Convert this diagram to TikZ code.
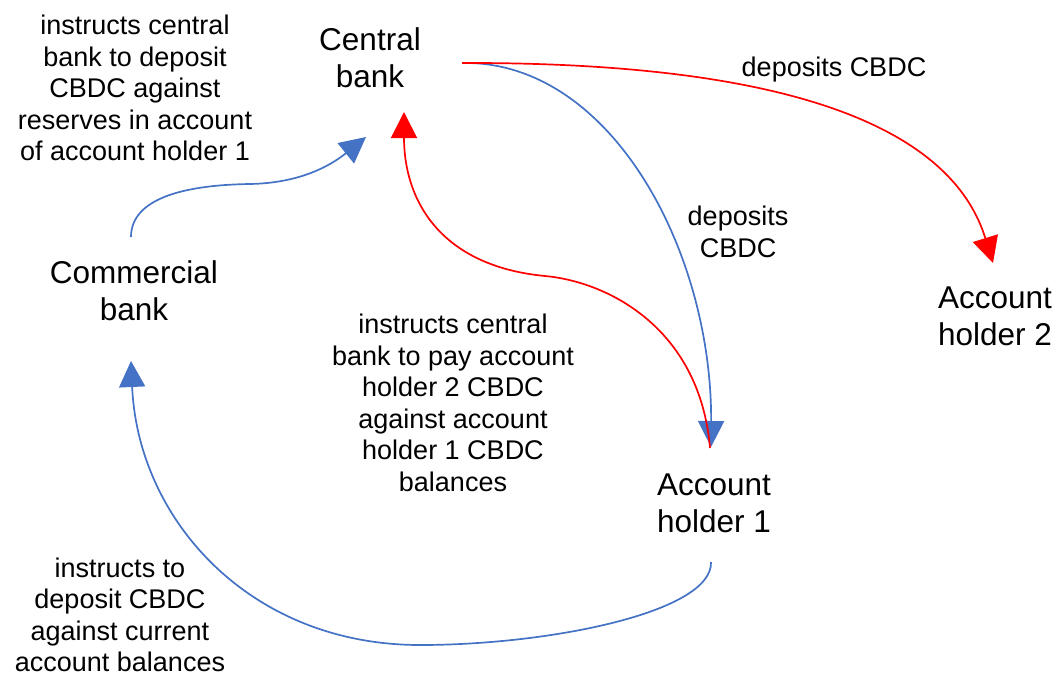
\documentclass[tikz,border=0pt]{standalone}
\usepackage{fontspec}
\setmainfont{Liberation Sans}
\usetikzlibrary{arrows.meta}
\definecolor{cblue}{HTML}{4472C4}
\definecolor{cred}{HTML}{FF0000}
\tikzset{
  entity/.style={align=center, inner sep=0pt, font=\fontsize{31.5}{37}\selectfont},
  lbl/.style={align=center, inner sep=0pt, font=\fontsize{27}{31.5}\selectfont},
  bluearrow/.style={draw=cblue, line width=1.7pt, -{Triangle[length=26pt,width=26pt]}},
  redarrow/.style={draw=cred, line width=1.7pt, -{Triangle[length=26pt,width=26pt]}},
}
\begin{document}
\begin{tikzpicture}[x=1pt,y=-1pt]
\useasboundingbox (0,0) rectangle (1056,677);
\node[entity] (cb) at (370,58) {Central\\bank};
\node[entity] (com) at (134,291) {Commercial\\bank};
\node[entity] (ah1) at (714,503) {Account\\holder 1};
\node[entity] (ah2) at (995,316) {Account\\holder 2};

\node[lbl] (l1) at (135,88) {instructs central\\bank to deposit\\CBDC against\\reserves in account\\of account holder 1};
\node[lbl] (l2) at (834,70) {deposits CBDC};
\node[lbl] (l3) at (738,232) {deposits\\CBDC};
\node[lbl] (l4) at (453,403) {instructs central\\bank to pay account\\holder 2 CBDC\\against account\\holder 1 CBDC\\balances};
\node[lbl] (l5) at (120,615) {instructs to\\deposit CBDC\\against current\\account balances};

\coordinate (cbOut) at (462,63);
\coordinate (cbInB) at (366,137);
\coordinate (cbInR) at (404,112);
\coordinate (comTop) at (131,237);
\coordinate (comIn) at (131,361);
\coordinate (ah1Top) at (710,448);
\coordinate (ah1In) at (711,447);
\coordinate (ah1Bot) at (711,562);
\coordinate (ah2In) at (993,263);

% commercial bank -> central bank
\draw[bluearrow] (comTop) .. controls (131,200) and (180,185) .. (250,184)
  .. controls (305,183) and (335,162) .. (cbInB);
% central bank -> account holder 1
\draw[bluearrow] (cbOut) .. controls (610,60) and (712,250) .. (ah1In);
% central bank -> account holder 2
\draw[redarrow] (cbOut) .. controls (820,62) and (955,140) .. (ah2In);
% account holder 1 -> central bank
\draw[redarrow] (ah1Top) .. controls (700,330) and (610,282) .. (545,276)
  .. controls (440,266) and (404,200) .. (cbInR);
% account holder 1 -> commercial bank
\draw[bluearrow] (ah1Bot) .. controls (713,612) and (550,645) .. (420,645)
  .. controls (250,645) and (138,520) .. (comIn);
\end{tikzpicture}
\end{document}
